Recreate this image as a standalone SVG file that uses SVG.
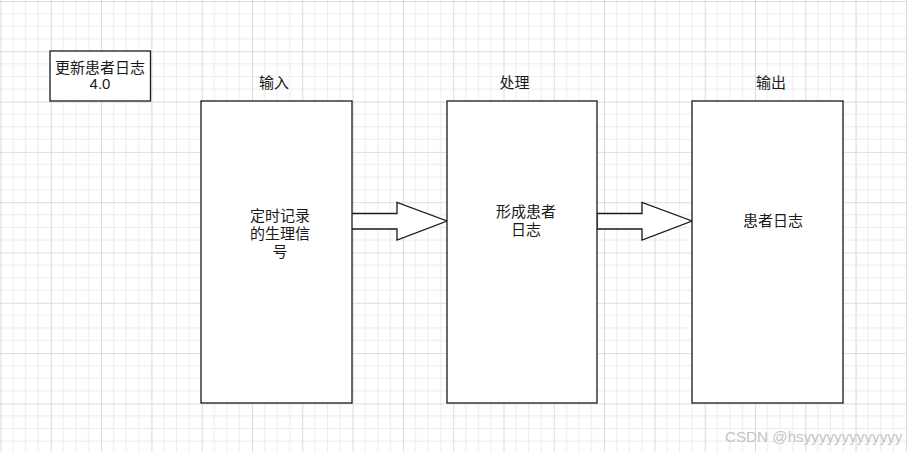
<svg xmlns="http://www.w3.org/2000/svg" width="907" height="452" viewBox="0 0 907 452">
  <style>
    .box { fill: #ffffff; stroke: #1a1a1a; stroke-width: 1.3; }
    .arrow { fill: #ffffff; stroke: #1a1a1a; stroke-width: 1.3; stroke-linejoin: miter; }
    .t { font-family: "Liberation Sans", "Noto Sans CJK SC", sans-serif; font-size: 15px; fill: #1a1a1a; text-anchor: middle; }
    .wm { font-family: "Liberation Sans", "Noto Sans CJK SC", sans-serif; font-size: 15.2px; fill: #c4c4c4; }
  </style>
  <defs>
    <pattern id="grid" patternUnits="userSpaceOnUse" x="0.5" y="1" width="50.3" height="50.3">
      <path d="M12.575 0V50.3M25.15 0V50.3M37.725 0V50.3M0 12.575H50.3M0 25.15H50.3M0 37.725H50.3" stroke="#ececec" stroke-width="1" fill="none"/>
      <path d="M0 0V50.3M0 0H50.3" stroke="#d2d2d2" stroke-width="1.6" fill="none"/>
    </pattern>
  </defs>
  <rect x="0" y="0" width="907" height="452" fill="#ffffff"/>
  <rect x="0" y="0" width="907" height="452" fill="url(#grid)"/>

  <g id="title">
    <rect class="box" x="50" y="51" width="100.5" height="50"/>
    <text class="t" x="100" y="73">更新患者日志</text>
    <text class="t" x="100" y="89">4.0</text>
  </g>

  <g id="label-input"><text class="t" x="274" y="88">输入</text></g>
  <g id="label-process"><text class="t" x="514.5" y="88">处理</text></g>
  <g id="label-output"><text class="t" x="771" y="88">输出</text></g>

  <g id="connectors">
    <polygon class="arrow" points="351,213.5 397,213.5 397,202.5 447,221 397,240 397,229 351,229"/>
    <polygon class="arrow" points="597,213.5 642,213.5 642,202.5 692,221 642,240 642,229 597,229"/>
  </g>

  <g id="node-input">
    <rect class="box" x="201" y="101" width="151" height="302"/>
    <text class="t" x="280" y="221">定时记录</text>
    <text class="t" x="280" y="239">的生理信</text>
    <text class="t" x="280" y="257">号</text>
  </g>

  <g id="node-process">
    <rect class="box" x="447" y="101" width="150" height="302"/>
    <text class="t" x="526" y="217">形成患者</text>
    <text class="t" x="526" y="235">日志</text>
  </g>

  <g id="node-output">
    <rect class="box" x="692" y="101" width="151" height="302"/>
    <text class="t" x="773" y="226">患者日志</text>
  </g>

  <text class="wm" x="725" y="442">CSDN @hsyyyyyyyyyyyyy</text>
</svg>
